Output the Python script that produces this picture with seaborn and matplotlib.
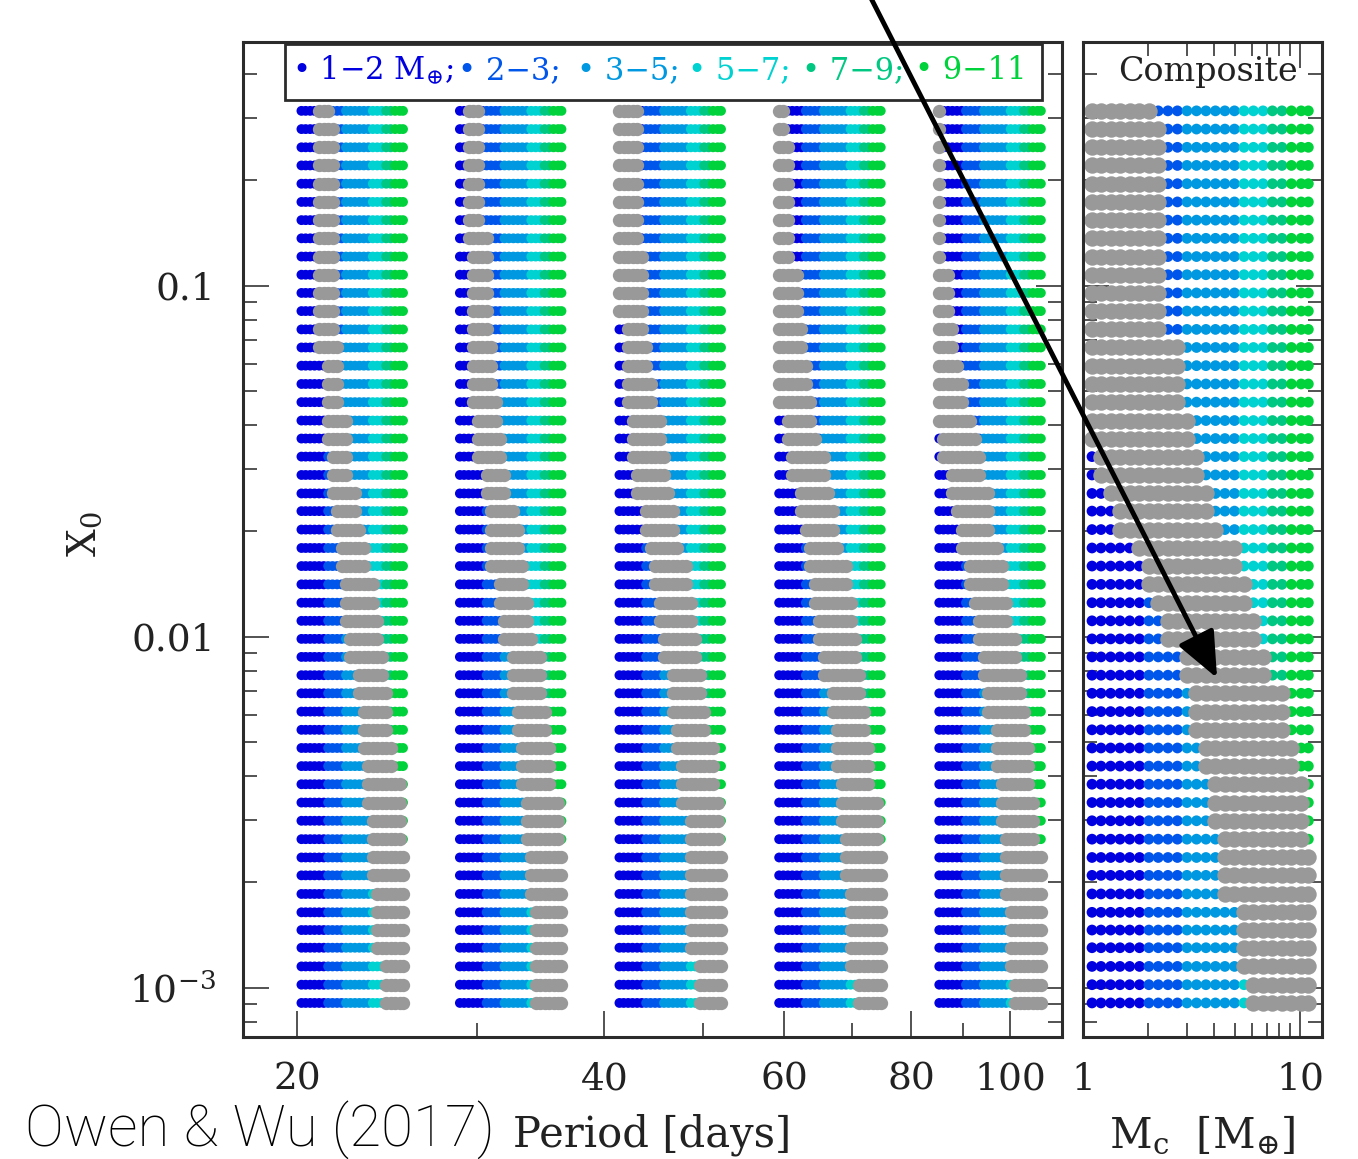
import numpy as np
import pandas as pd
import matplotlib.pyplot as plt
import matplotlib.ticker as mticker
from matplotlib.patches import FancyArrowPatch, Rectangle
import seaborn as sns

# core masses sampled along every strip [Earth masses]
core_mass = [1.1, 1.21, 1.34, 1.48, 1.64, 1.82, 2.01, 2.22, 2.46, 2.72, 3.01, 3.33,
             3.68, 4.07, 4.5, 4.98, 5.51, 6.09, 6.74, 7.45, 8.24, 9.11, 10.1, 10.9]

# initial envelope mass fraction X0 of each row (top to bottom)
x0_grid = [0.315, 0.2795, 0.248, 0.2202, 0.1953, 0.1733, 0.1538, 0.1365, 0.1211, 0.1075,
           0.0954, 0.0847, 0.0751, 0.0667, 0.0592, 0.0525, 0.0466, 0.0413, 0.0367, 0.0326,
           0.0289, 0.0256, 0.0228, 0.0202, 0.0179, 0.0159, 0.0141, 0.0125, 0.0111, 0.00986,
           0.00876, 0.00777, 0.0069, 0.00612, 0.00543, 0.00482, 0.00428, 0.0038, 0.00337, 0.00299,
           0.00265, 0.00235, 0.00209, 0.00185, 0.00164, 0.00146, 0.0013, 0.00115, 0.00102, 0.000905]

# orbital period of each strip [days]
period_base = [20.0, 28.6, 41.0, 58.8, 84.4]

bin_labels = ["1-2", "2-3", "3-5", "5-7", "7-9", "9-11"]
bin_edges = [1, 2, 3, 5, 7, 9, 11.5]
bin_colors = ["#0000e0", "#0055eb", "#0098e0", "#00d2d2", "#00c882", "#00d23c"]
legend_text = ["\u2022 1\u22122 $\\mathregular{M}_{\\oplus}$;", "\u2022 2\u22123;", "\u2022 3\u22125;",
               "\u2022 5\u22127;", "\u2022 7\u22129;", "\u2022 9\u221211"]

# grey band (lowest / highest core mass) for each row, per period
gray_lo_20 = [1.64, 1.64, 1.64, 1.64, 1.64, 1.64, 1.64, 1.64, 1.64, 1.64,
              1.64, 1.64, 1.64, 1.64, 2.01, 2.01, 2.01, 2.01, 2.01, 2.22,
              2.22, 2.22, 2.46, 2.46, 2.72, 2.72, 3.01, 3.01, 3.01, 3.33,
              3.33, 4.07, 4.07, 4.5, 4.5, 4.5, 4.98, 4.98, 4.98, 5.51,
              5.51, 5.51, 5.51, 6.09, 6.09, 6.09, 6.09, 7.45, 7.45, 7.45]
gray_hi_20 = [2.01, 2.22, 2.22, 2.22, 2.22, 2.22, 2.22, 2.22, 2.22, 2.22,
              2.22, 2.22, 2.22, 2.46, 2.46, 2.46, 2.46, 3.01, 3.01, 3.01,
              3.01, 3.68, 3.68, 4.07, 4.5, 4.5, 5.51, 5.51, 6.09, 6.09,
              6.74, 6.74, 7.45, 7.45, 7.45, 8.24, 8.24, 10.1, 10.1, 10.1,
              10.1, 10.9, 10.9, 10.9, 10.9, 10.9, 10.9, 10.9, 10.9, 10.9]
gray_lo_29 = [1.34, 1.34, 1.34, 1.34, 1.34, 1.34, 1.34, 1.34, 1.48, 1.48,
              1.48, 1.48, 1.48, 1.48, 1.48, 1.48, 1.48, 1.64, 1.64, 1.64,
              2.01, 2.01, 2.22, 2.22, 2.22, 2.22, 2.72, 2.72, 3.01, 3.01,
              3.68, 3.68, 3.68, 4.07, 4.07, 4.5, 4.5, 4.5, 4.98, 4.98,
              4.98, 5.51, 5.51, 5.51, 6.09, 6.09, 6.09, 6.09, 6.09, 6.09]
gray_hi_29 = [1.64, 1.64, 1.64, 1.64, 1.64, 1.64, 1.64, 2.01, 2.01, 2.01,
              2.01, 2.01, 2.01, 2.22, 2.22, 2.22, 2.46, 2.46, 2.72, 2.72,
              3.01, 3.01, 3.68, 4.07, 4.07, 4.5, 4.5, 4.98, 4.98, 5.51,
              6.74, 6.74, 6.74, 7.45, 7.45, 8.24, 8.24, 8.24, 10.1, 10.1,
              10.1, 10.9, 10.9, 10.9, 10.9, 10.9, 10.9, 10.9, 10.9, 10.9]
gray_lo_41 = [1.1, 1.1, 1.1, 1.1, 1.1, 1.1, 1.1, 1.1, 1.1, 1.1,
              1.1, 1.1, 1.34, 1.34, 1.34, 1.34, 1.34, 1.48, 1.48, 1.48,
              1.64, 1.64, 2.01, 2.01, 2.22, 2.46, 2.46, 2.72, 2.72, 3.01,
              3.01, 3.68, 3.68, 3.68, 4.07, 4.07, 4.5, 4.5, 4.5, 5.51,
              5.51, 5.51, 5.51, 5.51, 5.51, 5.51, 5.51, 6.74, 6.74, 6.74]
gray_hi_41 = [1.64, 1.64, 1.64, 1.64, 1.64, 1.64, 1.64, 1.64, 1.82, 1.82,
              1.82, 1.82, 1.82, 2.01, 2.01, 2.22, 2.22, 2.72, 2.72, 3.01,
              3.01, 3.33, 3.68, 3.68, 4.07, 4.98, 4.98, 5.51, 5.51, 6.09,
              6.09, 6.74, 6.74, 7.45, 7.45, 9.11, 9.11, 9.11, 10.1, 10.1,
              10.1, 10.9, 10.9, 10.9, 10.9, 10.9, 10.9, 10.9, 10.9, 10.9]
gray_lo_59 = [1.1, 1.1, 1.1, 1.1, 1.1, 1.1, 1.1, 1.1, 1.1, 1.1,
              1.1, 1.1, 1.1, 1.1, 1.1, 1.1, 1.1, 1.34, 1.34, 1.48,
              1.48, 1.82, 1.82, 2.01, 2.22, 2.22, 2.46, 2.46, 2.72, 2.72,
              3.01, 3.01, 3.68, 3.68, 4.07, 4.07, 4.07, 4.5, 4.5, 4.5,
              4.98, 4.98, 4.98, 5.51, 5.51, 5.51, 5.51, 5.51, 6.74, 6.74]
gray_hi_59 = [1.21, 1.21, 1.34, 1.34, 1.34, 1.34, 1.34, 1.34, 1.34, 1.64,
              1.64, 1.64, 1.82, 1.82, 2.01, 2.01, 2.22, 2.22, 2.46, 3.01,
              3.01, 3.33, 3.68, 3.68, 4.07, 4.98, 4.98, 5.51, 5.51, 6.09,
              6.09, 6.74, 6.74, 7.45, 7.45, 8.24, 8.24, 8.24, 10.1, 10.1,
              10.1, 10.9, 10.9, 10.9, 10.9, 10.9, 10.9, 10.9, 10.9, 10.9]
gray_lo_84 = [1.1, 1.1, 1.1, 1.1, 1.1, 1.1, 1.1, 1.1, 1.1, 1.1,
              1.1, 1.1, 1.1, 1.1, 1.1, 1.1, 1.1, 1.1, 1.21, 1.21,
              1.48, 1.48, 1.64, 1.82, 1.82, 2.22, 2.22, 2.46, 2.72, 2.72,
              3.01, 3.01, 3.33, 3.33, 4.07, 4.07, 4.07, 4.5, 4.5, 4.5,
              4.98, 4.98, 4.98, 4.98, 5.51, 5.51, 5.51, 5.51, 6.09, 6.09]
gray_hi_84 = [1.1, 1.1, 1.1, 1.1, 1.1, 1.1, 1.1, 1.1, 1.1, 1.34,
              1.34, 1.34, 1.48, 1.48, 1.64, 1.82, 1.82, 2.22, 2.46, 2.72,
              2.72, 3.33, 3.33, 3.33, 4.07, 4.5, 4.5, 4.98, 4.98, 6.09,
              6.09, 6.74, 6.74, 7.45, 7.45, 8.24, 8.24, 8.24, 9.11, 9.11,
              9.11, 10.9, 10.9, 10.9, 10.9, 10.9, 10.9, 10.9, 10.9, 10.9]
gray_lo_comp = [1.1, 1.1, 1.1, 1.1, 1.1, 1.1, 1.1, 1.1, 1.1, 1.1,
                1.1, 1.1, 1.1, 1.1, 1.1, 1.1, 1.1, 1.1, 1.1, 1.21,
                1.21, 1.34, 1.48, 1.48, 1.82, 2.01, 2.01, 2.22, 2.46, 2.46,
                3.01, 3.01, 3.33, 3.33, 3.33, 3.68, 3.68, 4.07, 4.07, 4.07,
                4.5, 4.5, 4.5, 4.5, 5.51, 5.51, 5.51, 5.51, 6.09, 6.09]
gray_hi_comp = [2.01, 2.22, 2.22, 2.22, 2.22, 2.22, 2.22, 2.22, 2.22, 2.22,
                2.22, 2.22, 2.22, 2.72, 2.72, 2.72, 2.72, 3.01, 3.01, 3.33,
                3.33, 3.68, 3.68, 4.07, 4.98, 4.98, 5.51, 5.51, 6.09, 6.09,
                6.74, 6.74, 8.24, 8.24, 8.24, 9.11, 9.11, 10.1, 10.1, 10.1,
                10.1, 10.9, 10.9, 10.9, 10.9, 10.9, 10.9, 10.9, 10.9, 10.9]

strip_lo = [gray_lo_20, gray_lo_29, gray_lo_41, gray_lo_59, gray_lo_84]
strip_hi = [gray_hi_20, gray_hi_29, gray_hi_41, gray_hi_59, gray_hi_84]

# build long tables
records = []
for p, lo, hi in zip(period_base, strip_lo, strip_hi):
    for j, x0 in enumerate(x0_grid):
        for m in core_mass:
            # each strip spreads its masses a little in period so they are visible
            records.append({"period": p * m ** 0.1, "x0": x0, "mass": m,
                            "gray": lo[j] - 1e-6 <= m <= hi[j] + 1e-6})
df = pd.DataFrame(records)
df["bin"] = pd.cut(df["mass"], bin_edges, labels=bin_labels, right=False)

comp = []
for j, x0 in enumerate(x0_grid):
    for m in core_mass:
        comp.append({"mass": m, "x0": x0,
                     "gray": gray_lo_comp[j] - 1e-6 <= m <= gray_hi_comp[j] + 1e-6})
dfc = pd.DataFrame(comp)
dfc["bin"] = pd.cut(dfc["mass"], bin_edges, labels=bin_labels, right=False)

sns.set_style("ticks")
plt.rcParams["font.family"] = ["DejaVu Serif"]
plt.rcParams["mathtext.fontset"] = "dejavuserif"

ink = "#2b2b2b"
gray = "#999999"
palette = dict(zip(bin_labels, bin_colors))

fig = plt.figure(figsize=(13.58, 11.59), dpi=100)
ax = fig.add_axes([0.179, 0.1053, 0.603, 0.8585])
axc = fig.add_axes([0.7975, 0.1053, 0.176, 0.8585])

# left panel: strips per period
sns.scatterplot(data=df, x="period", y="x0", hue="bin", hue_order=bin_labels,
                palette=palette, s=50, linewidth=0, legend=False, ax=ax)
sns.scatterplot(data=df[df["gray"]], x="period", y="x0", color=gray,
                s=92, linewidth=0, legend=False, ax=ax)

# right panel: composite in core mass
sns.scatterplot(data=dfc, x="mass", y="x0", hue="bin", hue_order=bin_labels,
                palette=palette, s=60, linewidth=0, legend=False, ax=axc)
sns.scatterplot(data=dfc[dfc["gray"]], x="mass", y="x0", color=gray,
                s=140, linewidth=0, legend=False, ax=axc)

for a in (ax, axc):
    a.set_xscale("log")
    a.set_yscale("log")
    a.set_ylim(7.24e-4, 0.495)
    for sp in a.spines.values():
        sp.set_linewidth(2.2)
        sp.set_color(ink)
    a.tick_params(which="both", direction="in", top=True, right=True,
                  color="#444444", width=1.3, labelcolor="#222222")
    a.tick_params(which="major", length=19)
    a.tick_params(which="minor", length=10)
    a.yaxis.set_minor_locator(mticker.LogLocator(base=10, subs=range(2, 10), numticks=20))
    a.yaxis.set_minor_formatter(mticker.NullFormatter())

ax.set_xlim(17.7, 112.4)
ax.xaxis.set_major_locator(mticker.FixedLocator([20, 40, 60, 80, 100]))
ax.xaxis.set_major_formatter(mticker.FixedFormatter(["20", "40", "60", "80", "100"]))
ax.xaxis.set_minor_locator(mticker.FixedLocator([30, 50, 70, 90]))
ax.xaxis.set_minor_formatter(mticker.NullFormatter())
ax.yaxis.set_major_locator(mticker.FixedLocator([1e-3, 1e-2, 1e-1]))
ax.yaxis.set_major_formatter(mticker.FixedFormatter(["10$^{-3}$", "0.01", "0.1"]))
ax.tick_params(axis="y", which="major", labelsize=27, pad=20)
ax.tick_params(axis="x", which="major", labelsize=27, pad=18)

axc.set_xlim(1.0, 12.6)
axc.xaxis.set_major_locator(mticker.FixedLocator([1, 10]))
axc.xaxis.set_major_formatter(mticker.FixedFormatter(["1", "10"]))
axc.xaxis.set_minor_locator(mticker.FixedLocator([2, 3, 4, 5, 6, 7, 8, 9]))
axc.xaxis.set_minor_formatter(mticker.NullFormatter())
axc.yaxis.set_major_locator(mticker.FixedLocator([1e-3, 1e-2, 1e-1]))
axc.yaxis.set_major_formatter(mticker.NullFormatter())
axc.tick_params(axis="x", which="major", labelsize=27, pad=18)

ax.set_xlabel("Period [days]", fontsize=30, color="#222222")
ax.xaxis.set_label_coords(0.5, -0.077)
ax.set_ylabel("")
axc.set_xlabel("$\\mathregular{M}_{\\mathregular{c}}$  [$\\mathregular{M}_{\\oplus}$]",
               fontsize=30, color="#222222")
axc.xaxis.set_label_coords(0.5, -0.077)
axc.set_ylabel("")
ax.text(-0.193, 0.505, "$\\mathregular{X}_{\\mathregular{0}}$", transform=ax.transAxes,
        rotation=90, ha="center", va="center", fontsize=28, color="#222222")

axc.text(0.523, 0.97, "Composite", transform=axc.transAxes, ha="center", va="center",
         fontsize=24, color="#222222")

# mass-bin key along the top of the left panel
ax.add_patch(Rectangle((0.0513, 0.9417), 0.9243, 0.0563, transform=ax.transAxes,
                       facecolor="white", edgecolor=ink, linewidth=2.0, zorder=5))
key_x = [0.0598, 0.2625, 0.4078, 0.5433, 0.6825, 0.8205]
for xk, txt, col in zip(key_x, legend_text, bin_colors):
    ax.text(xk, 0.9715, txt, transform=ax.transAxes, ha="left", va="center",
            fontsize=22, color=col, zorder=6)

fig.text(0.0184, 0.025, "Owen & Wu (2017)", ha="left", va="center", fontsize=42,
         family=["Roboto", "DejaVu Sans"], fontweight="light", color="black")

fig.add_artist(FancyArrowPatch(posA=(0.6399, 1.005), posB=(0.8962, 0.415),
                               transform=fig.transFigure,
                               arrowstyle="-|>,head_length=0.7,head_width=0.3",
                               mutation_scale=40, lw=3.5, color="black",
                               shrinkA=0, shrinkB=0, zorder=10))

fig.savefig("out.png", dpi=100)
